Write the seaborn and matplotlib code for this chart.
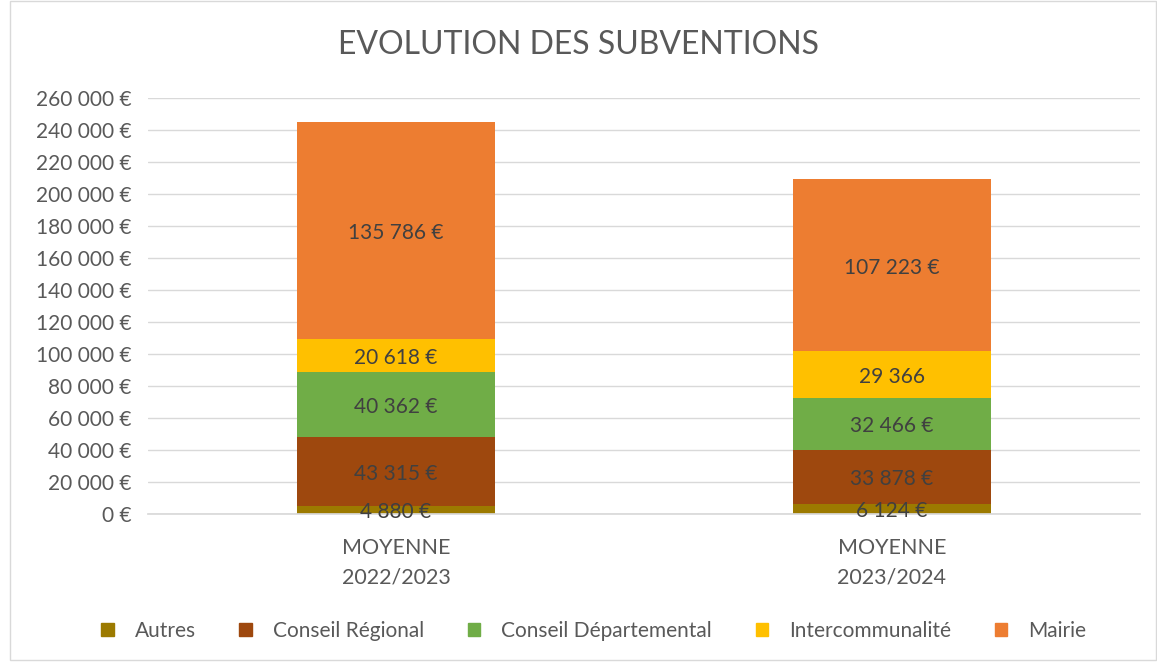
import numpy as np
import pandas as pd
import matplotlib.pyplot as plt
import matplotlib.patches as mpatches
import seaborn as sns

# Data
categories = ["MOYENNE\n2022/2023", "MOYENNE\n2023/2024"]
series = ["Autres", "Conseil Régional", "Conseil Départemental", "Intercommunalité", "Mairie"]
autres = [4880, 6124]
regional = [43315, 33878]
departemental = [40362, 32466]
interco = [20618, 29366]
mairie = [135786, 107223]
labels = [
    ["4 880 €", "6 124 €"],
    ["43 315 €", "33 878 €"],
    ["40 362 €", "32 466 €"],
    ["20 618 €", "29 366"],
    ["135 786 €", "107 223 €"],
]
colors = ["#9c7a00", "#9e480e", "#70ad47", "#ffc000", "#ed7d31"]
y_ticks = list(range(0, 260001, 20000))

sns.set_theme(style="white")
plt.rcParams["font.family"] = ["Lato", "DejaVu Sans"]

values = np.array([autres, regional, departemental, interco, mairie])
cum = values.cumsum(axis=0)

fig = plt.figure(figsize=(11.57, 6.62), dpi=100)
ax = fig.add_axes([0.128, 0.2236, 0.857, 0.6284])

# stacked bars: draw cumulative heights from the top layer down
for i in range(len(series) - 1, -1, -1):
    df = pd.DataFrame({"cat": categories, "val": cum[i]})
    sns.barplot(data=df, x="cat", y="val", color=colors[i], width=0.4,
                saturation=1, linewidth=0, ax=ax, zorder=2)

bottoms = np.vstack([np.zeros(len(categories)), cum[:-1]])
for i in range(len(series)):
    for j in range(len(categories)):
        ax.text(j, bottoms[i, j] + values[i, j] / 2 - 1500, labels[i][j],
                ha="center", va="center", fontsize=15, color="#404040", zorder=3)

ax.set_ylim(0, 260000)
ax.set_xlim(-0.5, 1.5)
ax.set_yticks(y_ticks)
ax.set_yticklabels([f"{v:,}".replace(",", " ") + " €" for v in y_ticks])
ax.yaxis.grid(True, color="#d9d9d9", linewidth=1, zorder=0)
ax.set_axisbelow(True)
for s in ["top", "right", "left"]:
    ax.spines[s].set_visible(False)
ax.spines["bottom"].set_color("#d9d9d9")
ax.set_xlabel("")
ax.set_ylabel("")
ax.tick_params(axis="y", labelsize=15, labelcolor="#595959", length=0, pad=12)
ax.tick_params(axis="x", labelsize=15.5, labelcolor="#595959", length=0, pad=17)
for t in ax.get_xticklabels():
    t.set_linespacing(1.65)

fig.suptitle("EVOLUTION DES SUBVENTIONS", y=0.955, fontsize=23, color="#595959")

handles = [mpatches.Patch(color=c, label=s) for c, s in zip(colors, series)]
fig.legend(handles=handles, loc="center", bbox_to_anchor=(0.513, 0.047), ncol=5,
           frameon=False, fontsize=15, labelcolor="#595959", handlelength=0.6,
           handleheight=0.6, columnspacing=2.1, handletextpad=1.0)

fig.patches.append(mpatches.Rectangle((0.009, 0.003), 0.99, 0.995, transform=fig.transFigure,
                                      fill=False, edgecolor="#d9d9d9", linewidth=1))

fig.savefig("out.png", dpi=100)
